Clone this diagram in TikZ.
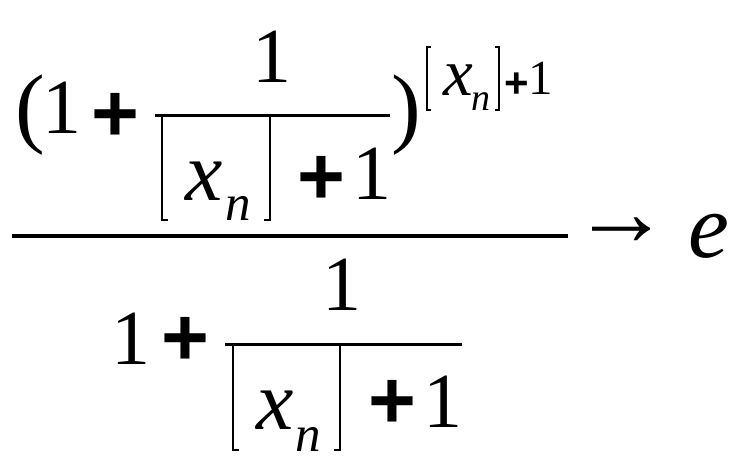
\documentclass[tikz,border=0pt]{standalone}
\usepackage{fontspec}
\setmainfont{Liberation Serif}
\newfontfamily\plusfont{Liberation Sans}
\newcommand\fs[1]{\fontsize{#1}{#1}\selectfont}
\tikzstyle{sym}=[inner sep=0pt,anchor=center]
\tikzstyle{dig}=[sym,font=\fs{78}]
\tikzstyle{var}=[sym,font=\itshape\fs{84}]
\tikzstyle{idx}=[sym,font=\itshape\fs{51}]
\tikzstyle{pls}=[sym,font=\plusfont\bfseries\fs{82}]
\tikzstyle{paren}=[sym,font=\fs{89}]
\tikzstyle{bar}=[line width=3pt]
\tikzstyle{brk}=[line width=2pt]
\tikzstyle{sbrk}=[line width=1.1pt]
% [ and ] as paths: style, x, top y, bottom y, tick
\newcommand\lbrk[5]{\draw[#1] (#2,#3) ++(#5,0) -- ++(-#5,0) -- (#2,#4) -- ++(#5,0);}
\newcommand\rbrk[5]{\draw[#1] (#2,#3) ++(-#5,0) -- ++(#5,0) -- (#2,#4) -- ++(-#5,0);}
\begin{document}
\begin{tikzpicture}[x=1pt,y=-1pt]
	\useasboundingbox (0,0) rectangle (741,471);
	% numerator
	\node[paren] (lp) at (30,115) {(};
	\node[dig]  (one) at (62,107.5) {1};
	\node[pls]  (pl)  at (115,117.5) {+};
	\node[dig]  (fa-num) at (272,56.5) {1};
	\draw[bar] (155,115) -- (390,115);
	\lbrk{brk}{162}{115}{220}{6}
	\rbrk{brk}{270}{115}{220}{6}
	\node[var]  (fa-x) at (204,181) {x};
	\node[idx]  (fa-n) at (238,208.5) {n};
	\node[pls]  (fa-pl) at (321,180) {+};
	\node[dig]  (fa-one) at (372,173.5) {1};
	\node[paren] (rp) at (406,115) {)};
	% exponent
	\lbrk{sbrk}{427}{47}{110}{4}
	\rbrk{sbrk}{499}{47}{110}{4}
	\node[sym,font=\itshape\fs{67}] (ex-x) at (458,80) {x};
	\node[sym,font=\itshape\fs{38}] (ex-n) at (481,101.5) {n};
	\node[sym,font=\plusfont\bfseries\fs{42}] (ex-pl) at (517,85) {+};
	\node[sym,font=\fs{49}] (ex-one) at (541,78.5) {1};
	% main bar, limit
	\draw[line width=3.5pt] (12,236) -- (568,236);
	\node[sym,font=\fs{98}] (to) at (621,232) {→};
	\node[sym,font=\itshape\fs{92}] (e) at (709,236) {e};
	% denominator
	\node[dig]  (one2) at (131,338.5) {1};
	\node[pls]  (pl2)  at (185,341) {+};
	\node[dig]  (fb-num) at (342,285) {1};
	\draw[bar] (225,344) -- (462,344);
	\lbrk{brk}{233}{344}{450}{6}
	\rbrk{brk}{340}{344}{450}{6}
	\node[var]  (fb-x) at (275,410) {x};
	\node[idx]  (fb-n) at (308,439) {n};
	\node[pls]  (fb-pl) at (392,404) {+};
	\node[dig]  (fb-one) at (443,401.5) {1};
\end{tikzpicture}
\end{document}
